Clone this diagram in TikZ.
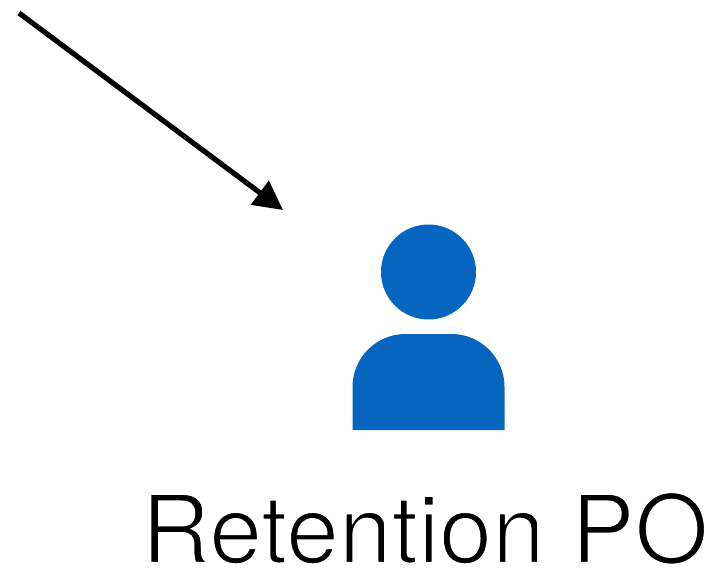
\documentclass[tikz,border=0pt]{standalone}
\usepackage{fontspec}
\setmainfont{TeX Gyre Heros}
\usetikzlibrary{arrows.meta}
\definecolor{personblue}{HTML}{0565BF}
\newcommand{\thinletters}{\special{pdf:code 2 Tr 2.2 w 1 1 1 RG}}
\newcommand{\plainletters}{\special{pdf:code 0 Tr 0 0 0 RG}}
\begin{document}
\begin{tikzpicture}[x=1pt,y=-1pt]
	\useasboundingbox (0,0) rectangle (712,571);
	\coordinate (start) at (19,13);
	\coordinate (tip) at (283,210);
	\draw[-{Triangle[length=29,width=29]},line width=5.2] (start) -- (tip);
	\fill[personblue] (428.5,272) circle[radius=47.5];
	\fill[personblue] (352.5,430) -- (352.5,387) arc[start angle=180, end angle=270, radius=53] -- (451.5,334) arc[start angle=270, end angle=360, radius=53] -- (504.5,430) -- cycle;
	\node[anchor=base,font=\fontsize{95}{95}\selectfont,inner sep=0pt] (label) at (425,563) {\thinletters Retention PO\plainletters};
\end{tikzpicture}
\end{document}
